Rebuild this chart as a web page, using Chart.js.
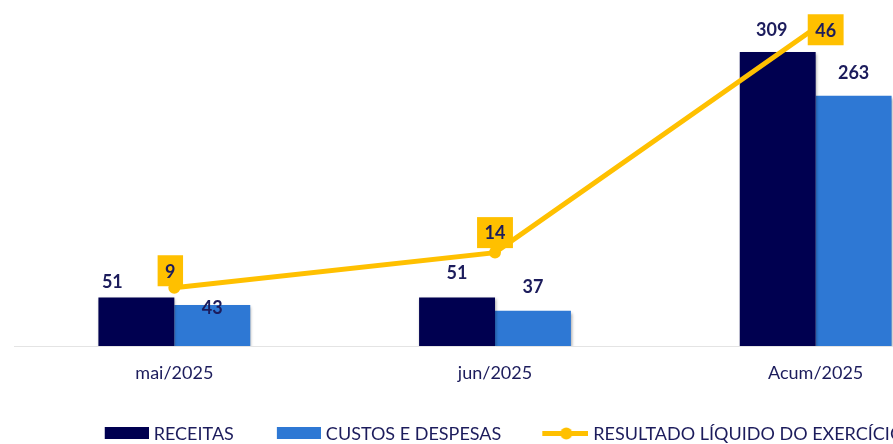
<!DOCTYPE html>
<html>
<head>
<meta charset="utf-8">
<script src="https://cdn.jsdelivr.net/npm/chart.js@4.4.1/dist/chart.umd.min.js"></script>
<style>
  html, body { margin: 0; padding: 0; background: #fff; overflow: hidden; }
  #wrap { position: relative; width: 982px; height: 453px; }
</style>
</head>
<body>
<div id="wrap"><canvas id="combo-chart"></canvas></div>
<script>
// Chart data
const categories = ["mai/2025", "jun/2025", "Acum/2025"];
const receitas = [51, 51, 309];
const custos = [43, 37, 263];
const resultado = [9, 14, 46];
const seriesNames = ["RECEITAS", "CUSTOS E DESPESAS", "RESULTADO LÍQUIDO DO EXERCÍCIO"];

const navy = "#000050";
const blue = "#2E78D4";
const yellow = "#FFC000";
const textNavy = "#1C1C5C";
const font = "Lato";

// label nudges [dx, dy] in px, relative to bar top / point
const receitasNudge = [[-24, -15], [0, -24], [-6, -22]];
const custosNudge = [[0, 3], [0, -24], [0, -23]];
const resultadoNudge = [[-4, -17], [0, -20], [10, 2]];

// small canvases used as legend markers (marker sits on the right part)
const makeIcon = (draw) => {
  const c = document.createElement("canvas");
  c.width = 66;
  c.height = 20;
  draw(c.getContext("2d"));
  return c;
};
const legendIcons = [
  makeIcon((g) => { g.fillStyle = navy; g.fillRect(22, 3, 44, 12); }),
  makeIcon((g) => { g.fillStyle = blue; g.fillRect(22, 3, 44, 12); }),
  makeIcon((g) => {
    g.fillStyle = yellow;
    g.fillRect(20, 7, 46, 5);
    g.beginPath();
    g.arc(44, 9.5, 6, 0, Math.PI * 2);
    g.fill();
  }),
];

const valueLabels = {
  id: "valueLabels",
  beforeDatasetDraw(chart, args) {
    if (args.meta.type !== "bar") return;
    const ctx = chart.ctx;
    ctx.save();
    ctx.shadowColor = "rgba(0,0,0,0.35)";
    ctx.shadowBlur = 3;
    ctx.shadowOffsetX = 1;
    ctx.shadowOffsetY = 2;
  },
  afterDatasetDraw(chart, args) {
    if (args.meta.type !== "bar") return;
    chart.ctx.restore();
  },
  afterDatasetsDraw(chart) {
    const ctx = chart.ctx;
    ctx.save();
    ctx.font = "bold 18px " + font;
    ctx.textAlign = "center";
    ctx.textBaseline = "middle";

    const bars = [[receitas, receitasNudge], [custos, custosNudge]];
    bars.forEach(([values, nudge], i) => {
      chart.getDatasetMeta(i).data.forEach((bar, j) => {
        ctx.fillStyle = textNavy;
        ctx.fillText(String(values[j]), bar.x + nudge[j][0], bar.y + nudge[j][1]);
      });
    });

    chart.getDatasetMeta(2).data.forEach((pt, j) => {
      const txt = String(resultado[j]);
      const w = ctx.measureText(txt).width + 15;
      const h = 31;
      const cx = pt.x + resultadoNudge[j][0];
      const cy = pt.y + resultadoNudge[j][1];
      ctx.fillStyle = yellow;
      ctx.fillRect(cx - w / 2, cy - h / 2, w, h);
      ctx.fillStyle = textNavy;
      ctx.fillText(txt, cx, cy + 1);
    });
    ctx.restore();
  },
};

const ctx = document.getElementById("combo-chart");

new Chart(ctx, {
  type: "bar",
  data: {
    labels: categories,
    datasets: [
      {
        label: seriesNames[0],
        data: receitas,
        backgroundColor: navy,
        categoryPercentage: 0.4735,
        barPercentage: 1,
        order: 1,
      },
      {
        label: seriesNames[1],
        data: custos,
        backgroundColor: blue,
        categoryPercentage: 0.4735,
        barPercentage: 1,
        order: 1,
      },
      {
        type: "line",
        label: seriesNames[2],
        data: resultado,
        yAxisID: "y1",
        borderColor: yellow,
        backgroundColor: yellow,
        borderWidth: 5,
        pointRadius: 6,
        pointBorderWidth: 0,
        pointBackgroundColor: yellow,
        tension: 0,
        order: 0,
      },
    ],
  },
  options: {
    responsive: true,
    maintainAspectRatio: false,
    animation: false,
    layout: { padding: { top: 13, left: 14, right: 5, bottom: 0 } },
    plugins: {
      tooltip: { enabled: false },
      legend: {
        position: "bottom",
        labels: {
          usePointStyle: true,
          pointStyleWidth: 58,
          boxHeight: 12,
          padding: 25,
          color: textNavy,
          font: { family: font, size: 18 },
          generateLabels: (chart) =>
            chart.data.datasets.map((ds, i) => ({
              text: ds.label,
              pointStyle: legendIcons[i],
              fillStyle: ds.backgroundColor,
              strokeStyle: "transparent",
              lineWidth: 0,
              fontColor: textNavy,
              hidden: false,
              datasetIndex: i,
            })),
        },
      },
    },
    scales: {
      x: {
        grid: { display: false, drawTicks: false },
        border: { display: true, color: "#E4E4E4", width: 1 },
        ticks: {
          color: textNavy,
          padding: 18,
          font: { family: font, size: 18, lineHeight: 1 },
        },
      },
      y: { display: false, min: 0, max: 350 },
      y1: { display: false, position: "right", min: 0.71, max: 48.1 },
    },
  },
  plugins: [valueLabels],
});
</script>
</body>
</html>
